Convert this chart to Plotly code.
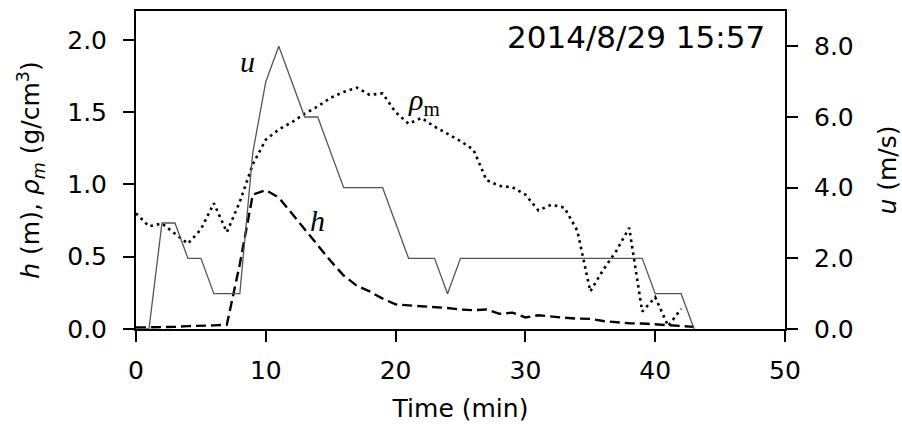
import plotly.graph_objects as go

# Time (min)
t_u = list(range(0, 44))
u_vals = [0, 0, 3, 3, 2, 2, 1, 1, 1, 5, 7, 8, 7, 6, 6, 5, 4, 4, 4, 4, 3, 2, 2, 2, 1,
          2, 2, 2, 2, 2, 2, 2, 2, 2, 2, 2, 2, 2, 2, 2, 1, 1, 1, 0]

t_h = list(range(0, 44))
h_vals = [0.01, 0.01, 0.015, 0.015, 0.02, 0.02, 0.025, 0.03, 0.45, 0.93, 0.96, 0.91,
          0.80, 0.69, 0.58, 0.47, 0.37, 0.30, 0.26, 0.21, 0.17, 0.165, 0.16, 0.155,
          0.145, 0.135, 0.13, 0.135, 0.105, 0.113, 0.08, 0.095, 0.085, 0.078, 0.072,
          0.07, 0.055, 0.045, 0.04, 0.038, 0.033, 0.03, 0.022, 0.015]

t_rho = list(range(0, 43))
rho_vals = [0.80, 0.71, 0.73, 0.66, 0.59, 0.69, 0.87, 0.67, 0.88, 1.14, 1.31, 1.38,
            1.43, 1.49, 1.54, 1.60, 1.64, 1.67, 1.62, 1.63, 1.50, 1.42, 1.46, 1.40,
            1.35, 1.30, 1.24, 1.03, 0.99, 0.98, 0.93, 0.82, 0.86, 0.84, 0.68, 0.26,
            0.41, 0.54, 0.70, 0.12, 0.22, 0.02, 0.14]

x_ticks = [0, 10, 20, 30, 40, 50]
left_ticks = [0.0, 0.5, 1.0, 1.5, 2.0]
right_ticks = [0.0, 2.0, 4.0, 6.0, 8.0]
date_text = "2014/8/29 15:57"

FONT = "DejaVu Sans"
TICKF = dict(family=FONT, size=25, color="black")

fig = go.Figure()
fig.add_trace(go.Scatter(x=t_h, y=h_vals, mode="lines", yaxis="y",
                         line=dict(color="black", width=2.4, dash="10px,5px"),
                         showlegend=False))
fig.add_trace(go.Scatter(x=t_rho, y=rho_vals, mode="lines", yaxis="y",
                         line=dict(color="black", width=2.6, dash="2.6px,4px"),
                         showlegend=False))
fig.add_trace(go.Scatter(x=t_u, y=u_vals, mode="lines", yaxis="y2",
                         line=dict(color="#555555", width=1.3),
                         showlegend=False))

axis_common = dict(showline=True, linecolor="black", linewidth=2, ticks="outside",
                   ticklen=11, tickwidth=2, tickcolor="black", showgrid=False,
                   zeroline=False, tickfont=TICKF, automargin=False)

fig.update_layout(
    width=902, height=430,
    margin=dict(l=136, r=117, t=11, b=101, autoexpand=False),
    paper_bgcolor="white", plot_bgcolor="white",
    xaxis=dict(range=[0, 50], tickvals=x_ticks, mirror=True, ticklabelstandoff=7,
               title=dict(text="Time (min)", font=dict(family=FONT, size=25, color="black"),
                          standoff=15),
               **axis_common),
    yaxis=dict(range=[0, 2.2], tickvals=left_ticks, tickformat=".1f", ticklabelstandoff=11,
               title=dict(text="<i>h</i> (m), <i>ρ<sub>m</sub></i> (g/cm<sup>3</sup>)",
                          font=dict(family=FONT, size=25, color="black"), standoff=20),
               **axis_common),
    yaxis2=dict(range=[0, 9], tickvals=right_ticks, tickformat=".1f", overlaying="y",
                side="right", ticklabelstandoff=11,
                title=dict(text="<i>u</i> (m/s)",
                           font=dict(family=FONT, size=25, color="black"), standoff=28),
                **axis_common),
)

fig.add_annotation(x=8.6, y=1.85, xref="x", yref="y", text="<i>u</i>", showarrow=False,
                   font=dict(family="Liberation Serif", size=30, color="black"))
fig.add_annotation(x=13.95, y=0.75, xref="x", yref="y", text="<i>h</i>", showarrow=False,
                   font=dict(family="Liberation Serif", size=30, color="black"))
fig.add_annotation(x=22.2, y=1.57, xref="x", yref="y", text="<i>ρ</i><sub>m</sub>",
                   showarrow=False,
                   font=dict(family="Liberation Serif", size=30, color="black"))
fig.add_annotation(x=0.972, y=0.918, xref="paper", yref="paper", text=date_text,
                   showarrow=False, xanchor="right", yanchor="middle",
                   font=dict(family=FONT, size=31, color="black"))

fig.write_html("out.html")
